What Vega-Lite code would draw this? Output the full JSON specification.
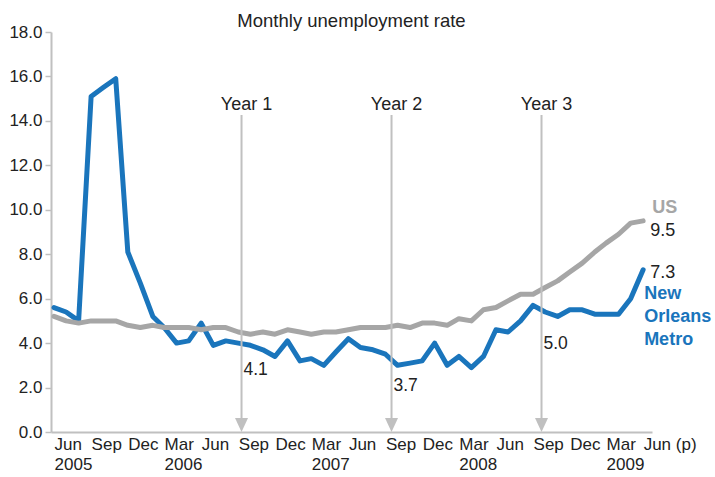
{
  "$schema": "https://vega.github.io/schema/vega-lite/v6.json",
  "width": 601,
  "height": 400,
  "autosize": "none",
  "padding": {"left": 51, "top": 32, "right": 63, "bottom": 45},
  "background": "white",
  "title": {"text": "Monthly unemployment rate", "font": "Liberation Sans", "fontSize": 18.5, "fontWeight": "normal", "color": "#222222", "anchor": "middle", "offset": -7},
  "config": {
    "view": {"stroke": null},
    "axis": {"labelFont": "Liberation Sans", "labelFontSize": 17, "labelColor": "#222222", "domainColor": "#c0c0c0", "domainWidth": 2, "grid": false, "title": null},
    "text": {"font": "Liberation Sans", "fontSize": 18}
  },
  "datasets": {
    "rates": [
      {"date": "2005-06-01", "series": "New Orleans Metro", "value": 5.6},
      {"date": "2005-07-01", "series": "New Orleans Metro", "value": 5.4},
      {"date": "2005-08-01", "series": "New Orleans Metro", "value": 5.0},
      {"date": "2005-09-01", "series": "New Orleans Metro", "value": 15.1},
      {"date": "2005-10-01", "series": "New Orleans Metro", "value": 15.5},
      {"date": "2005-11-01", "series": "New Orleans Metro", "value": 15.9},
      {"date": "2005-12-01", "series": "New Orleans Metro", "value": 8.1},
      {"date": "2006-01-01", "series": "New Orleans Metro", "value": 6.7},
      {"date": "2006-02-01", "series": "New Orleans Metro", "value": 5.2},
      {"date": "2006-03-01", "series": "New Orleans Metro", "value": 4.7},
      {"date": "2006-04-01", "series": "New Orleans Metro", "value": 4.0},
      {"date": "2006-05-01", "series": "New Orleans Metro", "value": 4.1},
      {"date": "2006-06-01", "series": "New Orleans Metro", "value": 4.9},
      {"date": "2006-07-01", "series": "New Orleans Metro", "value": 3.9},
      {"date": "2006-08-01", "series": "New Orleans Metro", "value": 4.1},
      {"date": "2006-09-01", "series": "New Orleans Metro", "value": 4.0},
      {"date": "2006-10-01", "series": "New Orleans Metro", "value": 3.9},
      {"date": "2006-11-01", "series": "New Orleans Metro", "value": 3.7},
      {"date": "2006-12-01", "series": "New Orleans Metro", "value": 3.4},
      {"date": "2007-01-01", "series": "New Orleans Metro", "value": 4.1},
      {"date": "2007-02-01", "series": "New Orleans Metro", "value": 3.2},
      {"date": "2007-03-01", "series": "New Orleans Metro", "value": 3.3},
      {"date": "2007-04-01", "series": "New Orleans Metro", "value": 3.0},
      {"date": "2007-05-01", "series": "New Orleans Metro", "value": 3.6},
      {"date": "2007-06-01", "series": "New Orleans Metro", "value": 4.2},
      {"date": "2007-07-01", "series": "New Orleans Metro", "value": 3.8},
      {"date": "2007-08-01", "series": "New Orleans Metro", "value": 3.7},
      {"date": "2007-09-01", "series": "New Orleans Metro", "value": 3.5},
      {"date": "2007-10-01", "series": "New Orleans Metro", "value": 3.0},
      {"date": "2007-11-01", "series": "New Orleans Metro", "value": 3.1},
      {"date": "2007-12-01", "series": "New Orleans Metro", "value": 3.2},
      {"date": "2008-01-01", "series": "New Orleans Metro", "value": 4.0},
      {"date": "2008-02-01", "series": "New Orleans Metro", "value": 3.0},
      {"date": "2008-03-01", "series": "New Orleans Metro", "value": 3.4},
      {"date": "2008-04-01", "series": "New Orleans Metro", "value": 2.9},
      {"date": "2008-05-01", "series": "New Orleans Metro", "value": 3.4},
      {"date": "2008-06-01", "series": "New Orleans Metro", "value": 4.6},
      {"date": "2008-07-01", "series": "New Orleans Metro", "value": 4.5},
      {"date": "2008-08-01", "series": "New Orleans Metro", "value": 5.0},
      {"date": "2008-09-01", "series": "New Orleans Metro", "value": 5.7},
      {"date": "2008-10-01", "series": "New Orleans Metro", "value": 5.4},
      {"date": "2008-11-01", "series": "New Orleans Metro", "value": 5.2},
      {"date": "2008-12-01", "series": "New Orleans Metro", "value": 5.5},
      {"date": "2009-01-01", "series": "New Orleans Metro", "value": 5.5},
      {"date": "2009-02-01", "series": "New Orleans Metro", "value": 5.3},
      {"date": "2009-03-01", "series": "New Orleans Metro", "value": 5.3},
      {"date": "2009-04-01", "series": "New Orleans Metro", "value": 5.3},
      {"date": "2009-05-01", "series": "New Orleans Metro", "value": 6.0},
      {"date": "2009-06-01", "series": "New Orleans Metro", "value": 7.3},
      {"date": "2005-06-01", "series": "US", "value": 5.2},
      {"date": "2005-07-01", "series": "US", "value": 5.0},
      {"date": "2005-08-01", "series": "US", "value": 4.9},
      {"date": "2005-09-01", "series": "US", "value": 5.0},
      {"date": "2005-10-01", "series": "US", "value": 5.0},
      {"date": "2005-11-01", "series": "US", "value": 5.0},
      {"date": "2005-12-01", "series": "US", "value": 4.8},
      {"date": "2006-01-01", "series": "US", "value": 4.7},
      {"date": "2006-02-01", "series": "US", "value": 4.8},
      {"date": "2006-03-01", "series": "US", "value": 4.7},
      {"date": "2006-04-01", "series": "US", "value": 4.7},
      {"date": "2006-05-01", "series": "US", "value": 4.7},
      {"date": "2006-06-01", "series": "US", "value": 4.6},
      {"date": "2006-07-01", "series": "US", "value": 4.7},
      {"date": "2006-08-01", "series": "US", "value": 4.7},
      {"date": "2006-09-01", "series": "US", "value": 4.5},
      {"date": "2006-10-01", "series": "US", "value": 4.4},
      {"date": "2006-11-01", "series": "US", "value": 4.5},
      {"date": "2006-12-01", "series": "US", "value": 4.4},
      {"date": "2007-01-01", "series": "US", "value": 4.6},
      {"date": "2007-02-01", "series": "US", "value": 4.5},
      {"date": "2007-03-01", "series": "US", "value": 4.4},
      {"date": "2007-04-01", "series": "US", "value": 4.5},
      {"date": "2007-05-01", "series": "US", "value": 4.5},
      {"date": "2007-06-01", "series": "US", "value": 4.6},
      {"date": "2007-07-01", "series": "US", "value": 4.7},
      {"date": "2007-08-01", "series": "US", "value": 4.7},
      {"date": "2007-09-01", "series": "US", "value": 4.7},
      {"date": "2007-10-01", "series": "US", "value": 4.8},
      {"date": "2007-11-01", "series": "US", "value": 4.7},
      {"date": "2007-12-01", "series": "US", "value": 4.9},
      {"date": "2008-01-01", "series": "US", "value": 4.9},
      {"date": "2008-02-01", "series": "US", "value": 4.8},
      {"date": "2008-03-01", "series": "US", "value": 5.1},
      {"date": "2008-04-01", "series": "US", "value": 5.0},
      {"date": "2008-05-01", "series": "US", "value": 5.5},
      {"date": "2008-06-01", "series": "US", "value": 5.6},
      {"date": "2008-07-01", "series": "US", "value": 5.9},
      {"date": "2008-08-01", "series": "US", "value": 6.2},
      {"date": "2008-09-01", "series": "US", "value": 6.2},
      {"date": "2008-10-01", "series": "US", "value": 6.5},
      {"date": "2008-11-01", "series": "US", "value": 6.8},
      {"date": "2008-12-01", "series": "US", "value": 7.2},
      {"date": "2009-01-01", "series": "US", "value": 7.6},
      {"date": "2009-02-01", "series": "US", "value": 8.1},
      {"date": "2009-03-01", "series": "US", "value": 8.5},
      {"date": "2009-04-01", "series": "US", "value": 8.9},
      {"date": "2009-05-01", "series": "US", "value": 9.4},
      {"date": "2009-06-01", "series": "US", "value": 9.5}
    ],
    "arrows": [
      {"date": "2006-09-09", "value": 14.27, "label": "Year 1", "num": "4.1", "numY": 2.55},
      {"date": "2007-09-16", "value": 14.27, "label": "Year 2", "num": "3.7", "numY": 1.85},
      {"date": "2008-09-22", "value": 14.27, "label": "Year 3", "num": "5.0", "numY": 3.72}
    ],
    "endlabels": [
      {"date": "2009-06-01", "value": 9.84, "text": "US", "series": "US", "kind": "name"},
      {"date": "2009-06-01", "value": 5.99, "text": ["New", "Orleans", "Metro"], "series": "New Orleans Metro", "kind": "name"},
      {"date": "2009-06-01", "value": 8.83, "text": "9.5", "series": "US", "kind": "num"},
      {"date": "2009-06-01", "value": 6.92, "text": "7.3", "series": "New Orleans Metro", "kind": "num"}
    ]
  },
  "encoding": {
    "x": {
      "field": "date",
      "type": "temporal",
      "scale": {"type": "utc", "domain": [{"year": 2005, "month": 5, "date": 24, "hours": 12, "utc": true}, {"year": 2009, "month": 6, "date": 23, "utc": true}]},
      "axis": {
        "values": [
          {"year": 2005, "month": 6, "date": 1, "utc": true},
          {"year": 2005, "month": 9, "date": 1, "utc": true},
          {"year": 2005, "month": 12, "date": 1, "utc": true},
          {"year": 2006, "month": 3, "date": 1, "utc": true},
          {"year": 2006, "month": 6, "date": 1, "utc": true},
          {"year": 2006, "month": 9, "date": 1, "utc": true},
          {"year": 2006, "month": 12, "date": 1, "utc": true},
          {"year": 2007, "month": 3, "date": 1, "utc": true},
          {"year": 2007, "month": 6, "date": 1, "utc": true},
          {"year": 2007, "month": 9, "date": 1, "utc": true},
          {"year": 2007, "month": 12, "date": 1, "utc": true},
          {"year": 2008, "month": 3, "date": 1, "utc": true},
          {"year": 2008, "month": 6, "date": 1, "utc": true},
          {"year": 2008, "month": 9, "date": 1, "utc": true},
          {"year": 2008, "month": 12, "date": 1, "utc": true},
          {"year": 2009, "month": 3, "date": 1, "utc": true},
          {"year": 2009, "month": 6, "date": 1, "utc": true}
        ],
        "labelExpr": "(utcyear(datum.value) == 2009 && utcmonth(datum.value) == 5) ? 'Jun (p)' : ((utcmonth(datum.value) == 2 || (utcyear(datum.value) == 2005 && utcmonth(datum.value) == 5)) ? [utcFormat(datum.value, '%b'), utcFormat(datum.value, '%Y')] : utcFormat(datum.value, '%b'))",
        "labelAlign": "left",
        "labelOverlap": false,
        "labelFlush": false,
        "labelBound": false,
        "ticks": false,
        "labelPadding": 4,
        "labelLineHeight": 20
      }
    },
    "y": {
      "field": "value",
      "type": "quantitative",
      "scale": {"domain": [0, 18], "nice": false},
      "axis": {
        "values": [0, 2, 4, 6, 8, 10, 12, 14, 16, 18],
        "format": ".1f",
        "ticks": true,
        "tickSize": 6,
        "tickColor": "#c0c0c0",
        "tickWidth": 1.5,
        "labelPadding": 3
      }
    }
  },
  "layer": [
    {
      "data": {"name": "rates"},
      "transform": [{"filter": "datum.series == 'New Orleans Metro'"}],
      "mark": {"type": "line", "color": "#1a75bc", "strokeWidth": 5, "strokeJoin": "round", "strokeCap": "round"}
    },
    {
      "data": {"name": "rates"},
      "transform": [{"filter": "datum.series == 'US'"}],
      "mark": {"type": "line", "color": "#a6a6a6", "strokeWidth": 5, "strokeJoin": "round", "strokeCap": "round"}
    },
    {
      "data": {"name": "arrows"},
      "mark": {"type": "rule", "color": "#c0c0c0", "strokeWidth": 2},
      "encoding": {"y2": {"datum": 0.5}}
    },
    {
      "data": {"name": "arrows"},
      "mark": {"type": "point", "shape": "M-1,-2.15L1,-2.15L0,0Z", "filled": true, "color": "#c0c0c0", "opacity": 1, "size": 169, "strokeWidth": 0},
      "encoding": {"y": {"datum": 0}}
    },
    {
      "data": {"name": "arrows"},
      "mark": {"type": "text", "align": "center", "baseline": "alphabetic", "dx": 5, "dy": -5, "color": "#222222", "fontSize": 18},
      "encoding": {"text": {"field": "label"}}
    },
    {
      "data": {"name": "arrows"},
      "mark": {"type": "text", "align": "left", "baseline": "alphabetic", "dx": 2, "color": "#222222", "fontSize": 17.5},
      "encoding": {"y": {"field": "numY", "type": "quantitative"}, "text": {"field": "num"}}
    },
    {
      "data": {"name": "endlabels"},
      "transform": [{"filter": "datum.kind == 'name' && datum.series == 'US'"}],
      "mark": {"type": "text", "align": "left", "baseline": "alphabetic", "dx": 9, "fontWeight": "bold", "fontSize": 18, "color": "#a6a6a6"},
      "encoding": {"text": {"field": "text"}}
    },
    {
      "data": {"name": "endlabels"},
      "transform": [{"filter": "datum.kind == 'name' && datum.series == 'New Orleans Metro'"}],
      "mark": {"type": "text", "align": "left", "baseline": "alphabetic", "dx": 1, "fontWeight": "bold", "fontSize": 18, "lineHeight": 23, "color": "#1a75bc"},
      "encoding": {"text": {"field": "text"}}
    },
    {
      "data": {"name": "endlabels"},
      "transform": [{"filter": "datum.kind == 'num'"}],
      "mark": {"type": "text", "align": "left", "baseline": "alphabetic", "dx": 7, "color": "#222222", "fontSize": 18},
      "encoding": {"text": {"field": "text"}}
    }
  ]
}
